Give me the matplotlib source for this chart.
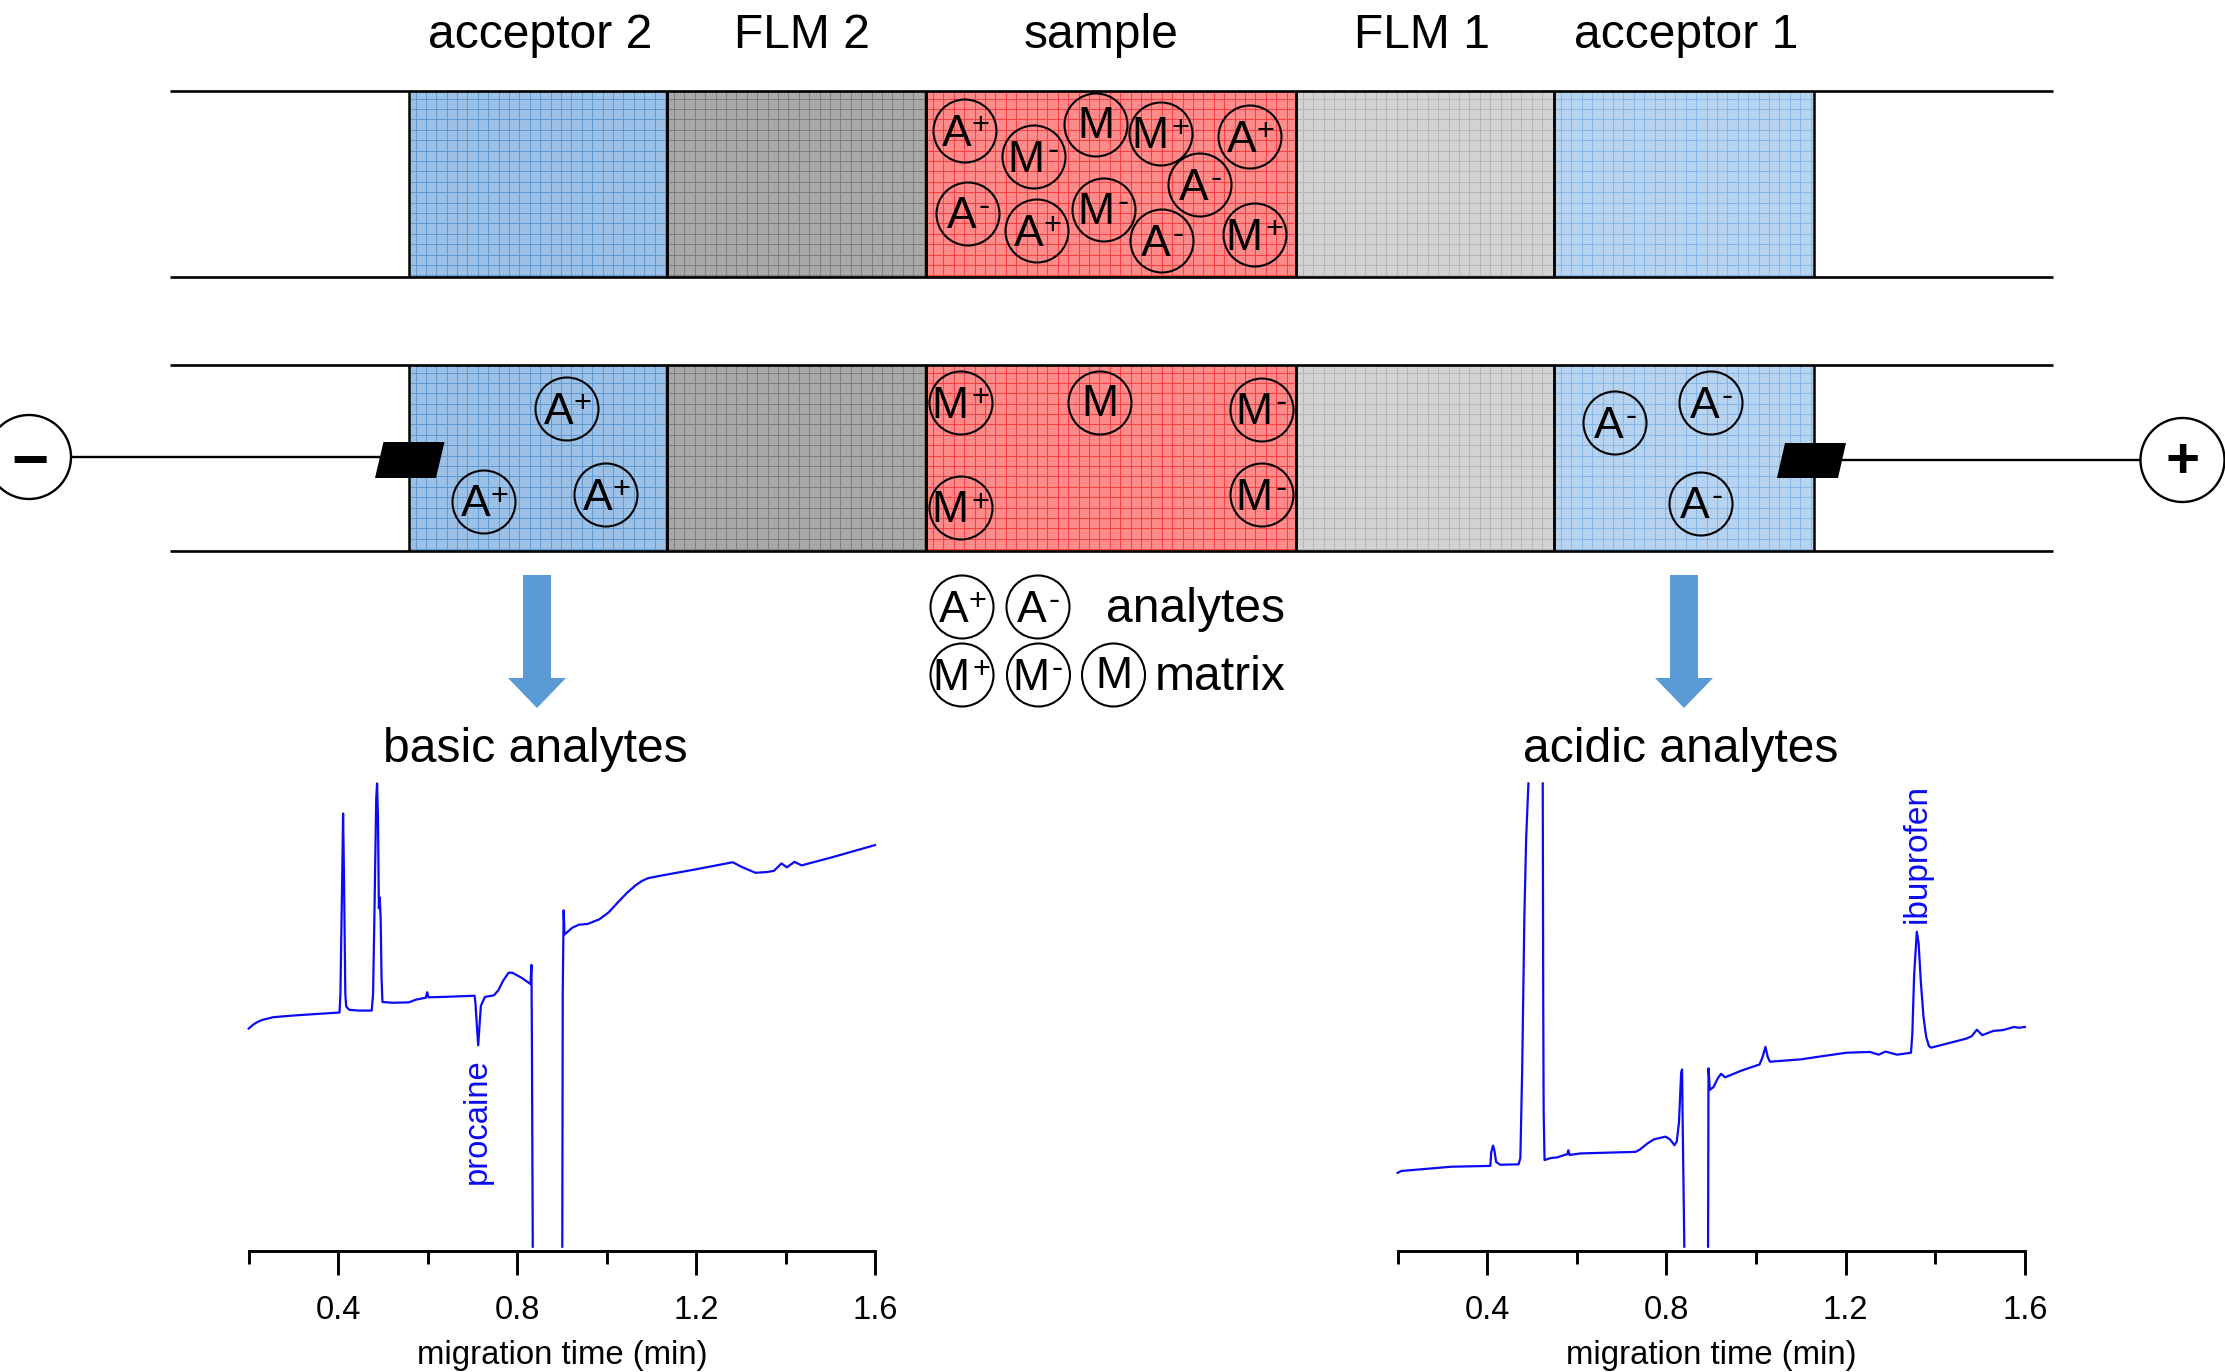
import numpy as np
import matplotlib
matplotlib.use('Agg')
import matplotlib.pyplot as plt
from matplotlib.patches import Circle, Rectangle, Polygon
from matplotlib.ticker import FixedLocator, FixedFormatter

plt.rcParams['font.family'] = ['Liberation Sans', 'DejaVu Sans']

W, H = 2225, 1372
DPI = 100

# --- electropherogram data (time in min, signal in a.u.)
left_time = [.200,.207,.214,.222,.230,.255,.296,.348,.403,.405,.409,.411,.413,.416,.418,.425,.445,.475,.478,.481,.485,.487,.489,.491,.493,.495,.497,.499,.522,.558,.574,.596,.599,.602,.635,.705,.707,.710,.713,.716,.719,.728,.748,.758,.769,.781,.789,.810,.830,.832,.833,.835,np.nan,.901,.902,.904,.906,.923,.938,.958,.984,1.005,1.025,1.046,1.066,1.079,1.092,1.118,1.200,1.282,1.302,1.333,1.359,1.374,1.391,1.403,1.420,1.436,1.508,1.600]
left_signal = [570,577,583,588,592,599,603,607,611,658,958,1121,958,658,626,618,616,616,658,858,1158,1198,1108,878,906,848,698,638,636,637,644,649,663,650,651,654,633,578,527,578,628,651,655,668,693,713,713,700,684,733,558,11,np.nan,11,658,873,811,828,836,838,850,868,893,918,938,948,955,961,978,996,984,969,971,974,993,983,997,988,1010,1040]
right_time = [.200,.208,.249,.321,.407,.409,.413,.416,.420,.429,.470,.474,.478,.483,.487,.492,np.nan,.524,.525,.526,.528,.541,.557,.572,.579,.581,.584,.608,.731,.741,.757,.772,.798,.808,.818,.823,.828,.833,.835,.836,.840,np.nan,.893,.894,.897,.905,.915,.922,.931,.967,1.008,1.015,1.021,1.026,1.031,1.100,1.141,1.202,1.254,1.274,1.289,1.315,1.346,1.349,1.353,1.359,1.363,1.368,1.374,1.380,1.386,1.391,1.469,1.481,1.493,1.505,1.530,1.551,1.576,1.587,1.600]
right_signal = [200,205,209,216,218,253,270,258,228,221,222,238,458,858,1058,1198,np.nan,1198,658,358,233,238,240,246,248,258,246,250,254,260,275,286,293,286,271,280,328,458,465,358,11,np.nan,11,468,413,420,443,454,445,462,478,498,523,498,485,491,498,508,510,503,511,503,508,558,708,818,788,688,598,548,525,521,544,550,567,553,564,566,574,572,574]
major_ticks = [0.4, 0.8, 1.2, 1.6]
minor_ticks = [0.2, 0.6, 1.0, 1.4]
tick_labels = ['0.4', '0.8', '1.2', '1.6']
x_label = 'migration time (min)'

# --- schematic content
zones = [
    ('acceptor 2', 408.5, 667, '#9dc1e6', '#5b95cf', 540),
    ('FLM 2', 667, 926, '#a8a8a8', '#7a7a7a', 801.5),
    ('sample', 926, 1296, '#ff8a8a', '#f53a3a', 1101),
    ('FLM 1', 1296, 1554, '#d3d3d3', '#b4b4b4', 1422),
    ('acceptor 1', 1554, 1813.5, '#b7d3f0', '#80b4e6', 1686),
]
tube_rows = [(90.5, 277), (364.5, 551)]
sample_particles = [('A','+',965,131),('M','-',1034,157),('M','',1096,125),('M','+',1161,134),('A','+',1250,137),('A','-',1200,185),
                    ('A','-',968,214),('A','+',1037,231),('M','-',1104,210),('A','-',1162,241),('M','+',1255,235)]
run_particles = [('A','+',567,409),('A','+',484,502),('A','+',606,495),('M','+',961,403),('M','',1100,403),('M','-',1262,410),
                 ('M','+',961,508),('M','-',1262,495),('A','-',1615,423),('A','-',1711,403),('A','-',1701,504)]
legend_particles = [('A','+',962,607),('A','-',1038,607),('M','+',962,675),('M','-',1038.5,675),('M','',1113.5,675)]

fig = plt.figure(figsize=(W/DPI, H/DPI), dpi=DPI, facecolor='white')
bg = fig.add_axes([0, 0, 1, 1])
bg.set_xlim(0, W); bg.set_ylim(H, 0); bg.axis('off')

TXT = 34.6
for name, x0, x1, fill, grid, tx in zones:
    for y0, y1 in tube_rows:
        bg.add_patch(Rectangle((x0, y0), x1-x0, y1-y0, fc=fill, ec='none', zorder=1))
        xs = np.arange(x0+7, x1, 10.4)
        ys = np.arange(y0+8, y1, 10.4)
        bg.vlines(xs, y0, y1, color=grid, lw=0.65, zorder=2)
        bg.hlines(ys, x0, x1, color=grid, lw=0.65, zorder=2)
        bg.vlines([x0, x1], y0, y1, color='black', lw=1.8, zorder=3)
    bg.text(tx, 36, name, fontsize=TXT, ha='center', va='center', color='black')

for y0, y1 in tube_rows:
    bg.hlines([y0, y1], 170, 2053, color='black', lw=1.9, zorder=4)

def particle(letter, charge, cx, cy):
    bg.add_patch(Circle((cx, cy), 31.5, fc='none', ec='black', lw=1.5, zorder=6))
    if charge == '':
        bg.text(cx, cy+1, letter, fontsize=32, ha='center', va='center', zorder=7)
    elif charge == '+':
        dx = -11 if letter == 'M' else -8
        bx = 19 if letter == 'M' else 15
        bg.text(cx+dx, cy+3, letter, fontsize=32, ha='center', va='center', zorder=7)
        bg.text(cx+bx, cy-5, charge, fontsize=22, ha='center', va='center', zorder=7)
    else:
        dx = -8 if letter == 'M' else -6
        bx = 19 if letter == 'M' else 16
        bg.text(cx+dx, cy+3, letter, fontsize=32, ha='center', va='center', zorder=7)
        bg.text(cx+bx, cy-6, charge, fontsize=24, ha='center', va='center', zorder=7)

for group in (sample_particles, run_particles, legend_particles):
    for item in group:
        particle(*item)

# electrodes
bg.add_patch(Polygon([(383.5,442),(444.5,442),(436,478),(375,478)], fc='black', ec='none', zorder=8))
bg.add_patch(Polygon([(1785,443),(1846,443),(1838,478),(1777,478)], fc='black', ec='none', zorder=8))
bg.plot([71, 380], [456.5, 456.5], color='black', lw=1.7, zorder=7)
bg.plot([1840, 2140], [460, 460], color='black', lw=1.7, zorder=7)
bg.add_patch(Circle((29, 457), 42, fc='white', ec='black', lw=1.7, zorder=8))
bg.add_patch(Circle((2182.5, 460), 42, fc='white', ec='black', lw=1.7, zorder=8))
bg.text(29.5, 464, '\u2212', fontsize=46, fontweight='bold', ha='center', va='center', zorder=9)
bg.text(2183, 463, '+', fontsize=42, fontweight='bold', ha='center', va='center', zorder=9)

# arrows
for c in (537, 1684):
    bg.add_patch(Polygon([(c-14,575),(c+14,575),(c+14,678),(c+29,678),(c,708),(c-29,678),(c-14,678)],
                         fc='#5b9bd5', ec='none', zorder=5))

bg.text(1195, 609, 'analytes', fontsize=TXT, ha='center', va='center')
bg.text(1220, 678, 'matrix', fontsize=TXT, ha='center', va='center')
bg.text(535, 749, 'basic analytes', fontsize=TXT, ha='center', va='center')
bg.text(1681, 749, 'acidic analytes', fontsize=TXT, ha='center', va='center')

def trace_axes(x0, x1, t, s):
    y0, y1 = 760, 1251
    ax = fig.add_axes([x0/W, 1-y1/H, (x1-x0)/W, (y1-y0)/H])
    ax.patch.set_alpha(0)
    ax.plot(t, s, color='#0a0af5', lw=1.6, solid_joinstyle='round', clip_on=False)
    ax.set_xlim(0.2, 1.6); ax.set_ylim(0, 1258)
    for sp in ('left', 'right', 'top'):
        ax.spines[sp].set_visible(False)
    ax.spines['bottom'].set_linewidth(2.1)
    ax.yaxis.set_visible(False)
    ax.xaxis.set_major_locator(FixedLocator(major_ticks))
    ax.xaxis.set_major_formatter(FixedFormatter(tick_labels))
    ax.xaxis.set_minor_locator(FixedLocator(minor_ticks))
    ax.tick_params(axis='x', which='major', length=17, width=2.1, labelsize=23.5, pad=14.5)
    ax.tick_params(axis='x', which='minor', length=9, width=2.1)
    ax.set_xlabel(x_label, fontsize=23.7, labelpad=10)
    return ax

axL = trace_axes(248.7, 875, left_time, left_signal)
axR = trace_axes(1397.6, 2024.8, right_time, right_signal)
bg.text(477, 1121, 'procaine', fontsize=23.6, color='#0a0af5', rotation=90, ha='center', va='center')
bg.text(1917, 853.5, 'ibuprofen', fontsize=24, color='#0a0af5', rotation=90, ha='center', va='center')

fig.savefig('out.png', dpi=DPI)
